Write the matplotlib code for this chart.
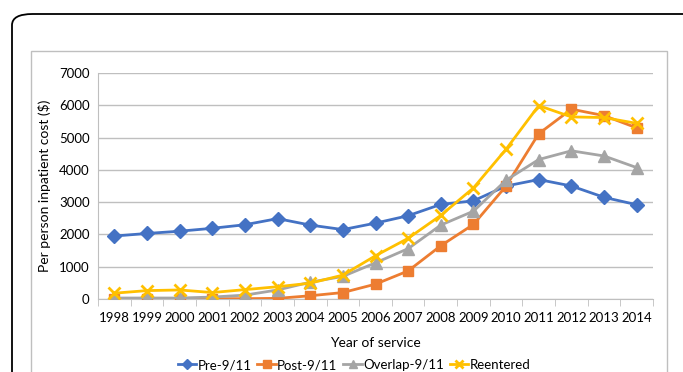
import matplotlib
matplotlib.use("Agg")
import matplotlib.pyplot as plt
from matplotlib.patches import FancyBboxPatch, Rectangle
import numpy as np

years = list(range(1998, 2015))
pre_911 = [1950, 2030, 2100, 2190, 2300, 2490, 2290, 2150, 2350, 2580, 2930, 3040, 3500, 3700, 3500, 3150, 2920]
post_911 = [10, 10, 10, 10, 10, 20, 100, 200, 460, 870, 1650, 2310, 3500, 5120, 5880, 5680, 5300]
overlap_911 = [30, 30, 30, 60, 120, 280, 520, 700, 1120, 1560, 2290, 2720, 3680, 4320, 4590, 4430, 4070]
reentered = [180, 260, 280, 200, 290, 380, 490, 740, 1340, 1880, 2590, 3440, 4640, 5990, 5640, 5620, 5440]
y_ticks = [0, 1000, 2000, 3000, 4000, 5000, 6000, 7000]

plt.rcParams['font.family'] = ['Lato', 'DejaVu Sans']

W, H = 683, 372
fig = plt.figure(figsize=(W / 100, H / 100), dpi=100)

# outer rounded frame
fig.patches.append(FancyBboxPatch((12 / W, 1 - 420 / H), 700 / W, 406 / H,
                                  boxstyle="round,pad=0,rounding_size=0.03",
                                  transform=fig.transFigure, fill=False,
                                  edgecolor='black', linewidth=1.3))
# inner chart border
fig.patches.append(Rectangle((31 / W, 1 - 400 / H), (667 - 31) / W, (400 - 51) / H,
                             transform=fig.transFigure, fill=False,
                             edgecolor='#BFBFBF', linewidth=1.0))

ax = fig.add_axes([98 / W, 1 - 299 / H, (653 - 98) / W, (299 - 73) / H])
x = np.array(years)
ax.plot(x, pre_911, color='#4472C4', marker='D', markersize=7, linewidth=2, label='Pre-9/11', zorder=3)
ax.plot(x, post_911, color='#ED7D31', marker='s', markersize=7.5, linewidth=2, label='Post-9/11', zorder=3)
ax.plot(x, overlap_911, color='#A5A5A5', marker='^', markersize=8, linewidth=2, label='Overlap-9/11', zorder=3)
ax.plot(x, reentered, color='#FFC000', marker='x', markersize=8, markeredgewidth=2, linewidth=2, label='Reentered', zorder=4)

ax.set_xlim(1997.5, 2014.5)
ax.set_ylim(0, 7000)
ax.set_yticks(y_ticks)
ax.set_xticks(years)
ax.set_xticks(np.arange(1997.5, 2015, 1), minor=True)
ax.tick_params(axis='x', which='major', length=0, labelsize=9.5, pad=9, colors='#404040')
ax.tick_params(axis='x', which='minor', length=5, color='#BFBFBF', direction='out')
ax.tick_params(axis='y', length=0, labelsize=9.5, pad=6, colors='#404040')
for lbl in ax.get_xticklabels() + ax.get_yticklabels():
    lbl.set_color('black')
ax.grid(axis='y', color='#BFBFBF', linewidth=1)
ax.set_axisbelow(True)
for s in ['top', 'right']:
    ax.spines[s].set_visible(False)
ax.spines['left'].set_color('#BFBFBF')
ax.spines['bottom'].set_color('#BFBFBF')

ax.set_ylabel('Per person inpatient cost ($)', fontsize=10, color='black', labelpad=6)
ax.set_xlabel('Year of service', fontsize=10, color='black', labelpad=10)

leg = ax.legend(loc='center', bbox_to_anchor=(354 / W, 1 - 365 / H), bbox_transform=fig.transFigure,
                ncol=4, frameon=False, fontsize=9.5, handlelength=1.4, handletextpad=0.1,
                columnspacing=0.45, markerscale=0.75)

fig.savefig('out.png', dpi=100)
